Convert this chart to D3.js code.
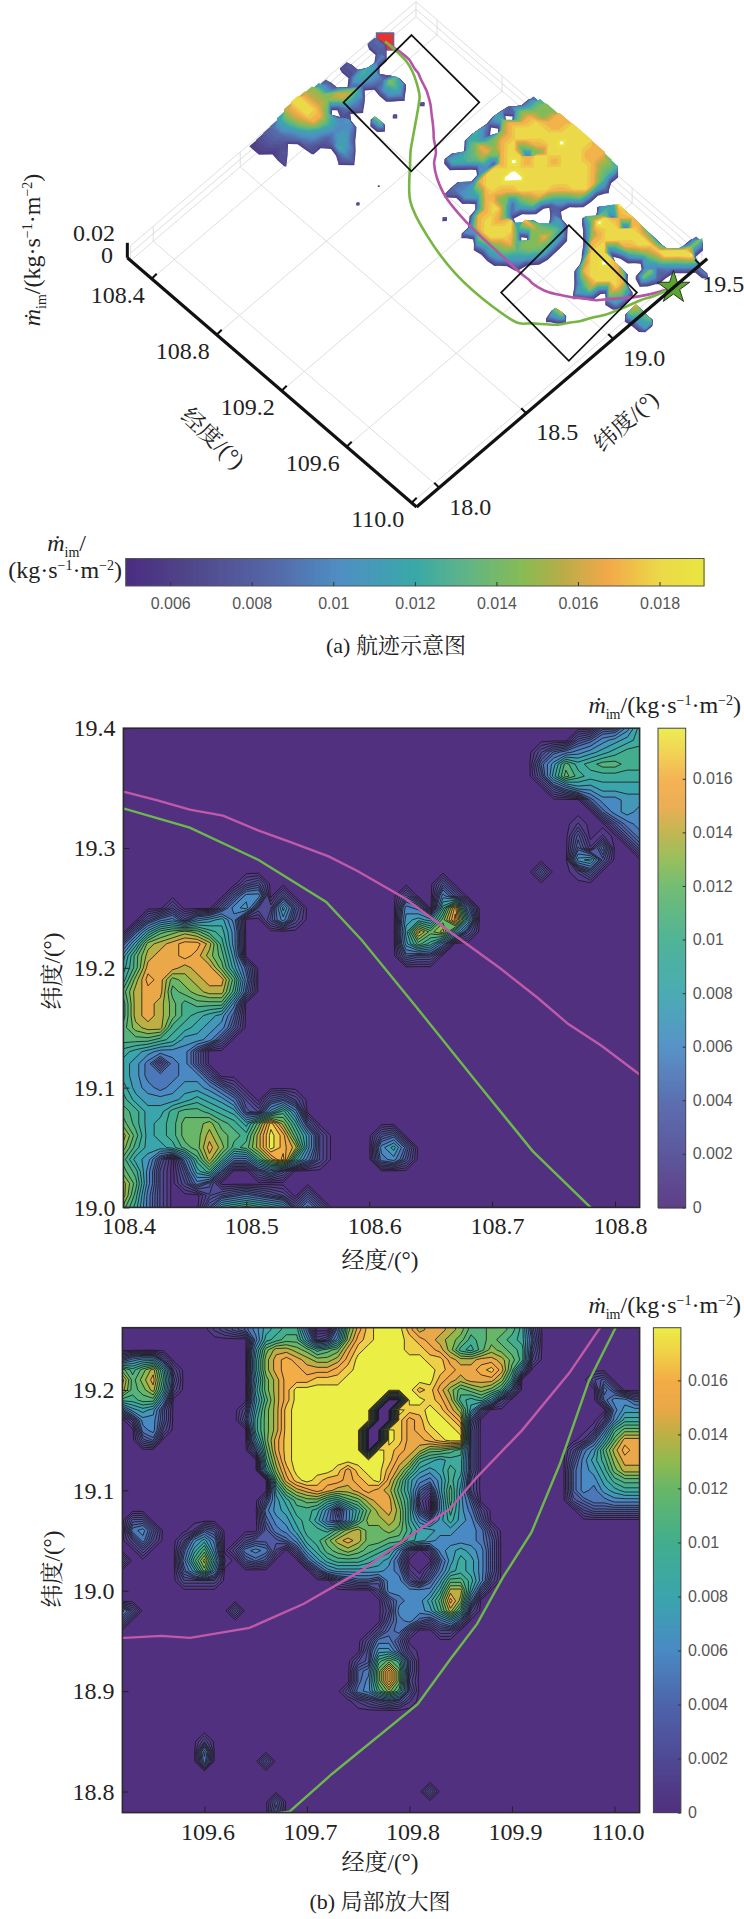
<!DOCTYPE html>
<html><head><meta charset="utf-8">
<script src="https://cdn.jsdelivr.net/npm/d3@7/dist/d3.min.js"></script>
<style>
html,body{margin:0;padding:0;background:#fff}
svg{display:block}
</style></head><body>
<script>
// ---------- data (grid characters: '.'=0, 1-9,a-i = value in 0.001 kg/(s·m²), x = above the colour range)
const surfaceLon0 = 108.30, surfaceLat0 = 19.50, surfaceStep = 0.04;
const surfaceRows = [
"..... ..... ..... .9dff hhiii ihhfd ..... ..... .9f..",
"..... ..... ..... 8cfhi iiixi iiihe 8.... ..... .dixa",
"..... ..... ..... a.dhi iiiii iiiih ..cxi ihfed eiib.",
"..... ..... ..... cehii ihfih iiiii .ad8h 8iiii iia..",
"..... ..... ...6. 9.fhi e9iii iiiie ..eii iiiif d98..",
"9.... ..... ..... b8ehi iihii iihc. .dfxi iihc. af8..",
"8a... ..... ..... dbefh ixiii iic8. ..9fh i8... 8f...",
".a.7d b..9. ..... cehh8 hixxi ih.9b 9..8h iiihe .....",
".cb9f d9... ..... .defa iixii fe..c d9..a iixii ha...",
"8db8a a.... ..... 9cd.b iiih9 c.9de fb... fiiii id.he",
"7c9.. ..9.. ..... ad..9 hiife 8.ihf hc... ahii. fb.fb",
".8ea. ..... ..... ...9a cdhii eic.f fd... .9df. .....",
"8dga8 .fe.. ..... ...9a b.chi hiidf e9... ..b.. .....",
"bgg9. ..... ..... ...8. ..9hi iiihd b.... ..... .....",
"ff.7c 9.... ..... ..... ...bh iifeb 8.... ..... .....",
"ggeca b8... ..... ..... 9..a. c9b9. ..... ..fh. .....",
"iihda cb9.. ..... ..... ..... ..... ..... ..9.. .....",
"iihb8 9da8. ..7.. ..... ..... ..... ..... ..... .....",
"gfca7 ..7.. ..... ..... ..... ..... ..... ..... .....",
"ca987 ..... ..... ..... ..... ..... ..... ..... .....",
"98... ..... ..8.. ..... ..... ..... ..... ..... .....",
"878.. ..... ..... ..... ..... ..... ..... ..... .....",
"7677. ..... ..... ..... ..... ..... ..... ..... .....",
"6.... ..... ..... ..... ..... ..... ..... ..... .....",
"..... ..... ..... ..... ..... ..... ..... ..... ....."
];
const upperLon0 = 108.40, upperLat0 = 19.40, gridStep = 0.01;
const upperRows = [
"..... ..... ..... ..... ..... ..... ..... ....3 369",
"..... ..... ..... ..... ..... ..... ..... ..346 789",
"..... ..... ..... ..... ..... ..... ....2 45678 9aa",
"..... ..... ..... ..... ..... ..... ....4 7b9ab baa",
"..... ..... ..... ..... ..... ..... ....3 8ca99 999",
"..... ..... ..... ..... ..... ..... ..... 35778 888",
"..... ..... ..... ..... ..... ..... ..... ...46 677",
"..... ..... ..... ..... ..... ..... ..... ....4 676",
"..... ..... ..... ..... ..... ..... ..... ..1.. 356",
"..... ..... ..... ..... ..... ..... ..... ..3.1 .35",
"..... ..... ..... ..... ..... ..... ..... ..415 ..3",
"..... ..... ..... ..... ..... ..... ..... ..783 ...",
"..... ..... ..... ..... ..... ..... ....3 ..13. ...",
"..... ..... 23... ..... ..... .3... ..... ..... ...",
"..... ....3 66.3. ..... ...3. .63.. ..... ..... ...",
"....2 ...36 72283 ..... ...65 .9g5. ..... ..... ...",
"..356 36785 ..362 ..... ...78 7ch8. ..... ..... ...",
".48bc dca96 ..... ..... ...8f ce83. ..... ..... ...",
"48def ggea6 ..... ..... ...7b 95... ..... ..... ...",
"7beff gfdb7 ..... ..... ...43 3.... ..... ..... ...",
"8bfff effc8 4.... ..... ..... ..... ..... ..... ...",
"9dgfc deffb 5.... ..... ..... ..... ..... ..... ...",
"beffb cdeea 4.... ..... ..... ..... ..... ..... ...",
"aefec abbb6 ..... ..... ..... ..... ..... ..... ...",
"aefec a9874 ..... ..... ..... ..... ..... ..... ...",
"bdeea 98763 ..... ..... ..... ..... ..... ..... ...",
"bbba9 7763. ..... ..... ..... ..... ..... ..... ...",
"98766 63... ..... ..... ..... ..... ..... ..... ...",
"87525 63... ..... ..... ..... ..... ..... ..... ...",
"87555 663.. ..... ..... ..... ..... ..... ..... ...",
"97656 77642 ..... ..... ..... ..... ..... ..... ...",
"a8777 89875 2.342 ..... ..... ..... ..... ..... ...",
"ba88a bba98 327a6 ..... ..... ..... ..... ..... ...",
"ca89a ccdba 8chd9 3.... ..... ..... ..... ..... ...",
"eb89a ccecb aeigb 72... .34.. ..... ..... ..... ...",
"da889 bcfda beige 72... .684. ..... ..... ..... ...",
"b873. 5aea5 5aeh9 52... .563. ..... ..... ..... ...",
"ca62. 38a4. .3 53 ..... ..... ..... ..... ..... ...",
"eb62. 253.. ..... ..... ..... ..... ..... ..... ...",
"ea52. ..234 5432. 3.... ..... ..... ..... ..... ...",
"c952. ..49a ba983 63... ..... ..... ..... ..... ..."
];
const lowerLon0 = 109.52, lowerLat0 = 19.26;
const lowerRows = [
"..... ....1 23468 9aa5. .5cfh iiige ffedb bccb9 3.... ..... .",
"..... ..... ...59 abb72 37dgh iiihg fedca bcba9 4.... ..... .",
"..... ..... ...7c eedca bcfhi iiihh gfda9 bdcba 3.... ..... .",
"46773 ..... ...8d fgfed degii iiiii hhfee ffeca 2.... ..... .",
"cace9 2.... ...8d fggff fghii iiiii ihgff ghfb5 ..... ..... .",
"fbdfa 3.... ...7c egggh hhiii iiiii igfef ffd9. ..... .23.. .",
"ebce9 2.... ...8c egiii iiiii iiiig hfdbc dca4. ..... ..53. .",
"aabb6 ..... ...7b egiii iiiii i..ii hgea9 a72.. ..... ..466 4",
"47873 ..... ..28c ehiii iiiii ..ihh ihfd8 3.... ..... ...57 7",
".2663 ..... ..39c ehiii iiiii ..hfg iihf4 ..... ..... ..269 9",
"..562 ..... ...9c ehiii iiii. .ihfg hiih3 ..... ..... .15ac c",
"..34. ..... ...7c fhiii iiii. .ihff ghii3 ..... ..... 148cf f",
"..... ..... ...4b fhiii iiii. ihgfe ccba3 ..... ....2 57beg f",
"..... ..... ....a ehiii iiiii ihfea 98993 ..... ....3 68adf f",
"..... ..... ....8 dgiii ihfhi igeb8 78a93 ..... ....4 679ce e",
"..... ..... ..... bfhih ggfgh ifc86 57a82 ..... ....4 668ab b",
"..... ..... ..... 8cefg feefg feb84 27b72 ..... ....4 65789 9",
"..... ..... ....3 79bcc a9bce ffc92 .6b74 ..... ....3 45566 6",
"..... ..... ....5 78aa9 6269c efd93 .6a75 2.... ..... 23333 3",
".33.. ..... ....4 679a8 536ad ded96 47976 3.... ..... ..... .",
".563. ..143 ....3 568aa 9bdec cdca8 87766 52... ..... ..... .",
".252. .2685 ..233 3469a cefec cbb98 76666 53... ..... ..... .",
"..2.. .48b6 .2565 2.379 bcdcb a962. 26787 63... ..... ..... .",
"3.... .5ae8 1.343 ...47 9aaa9 874.. .4798 63... ..... ..... .",
"..... .47c6 ..... ....3 67777 7651. 25898 63... ..... ..... .",
"..... .2222 ..... ..... .2344 36631 47bb9 62... ..... ..... .",
"..... ..... ..... ..... ..... 26666 69ee8 3.... ..... ..... .",
"..... ..... ..... ..... ..... .3566 8bgd5 ..... ..... ..... .",
"63... ..... .3... ..... ..... .2666 7aea2 ..... ..... ..... .",
"3.... ..... ..... ..... ..... .3564 3574. ..... ..... ..... .",
"..... ..... ..... ..... ..... 2452. .22.. ..... ..... ..... .",
"..... ..... ..... ..... ....2 553.. ..... ..... ..... ..... .",
"..... ..... ..... ..... ....3 7741. ..... ..... ..... ..... .",
"..... ..... ..... ..... ...23 aca3. ..... ..... ..... ..... .",
"..... ..... ..... ..... ...45 chc3. ..... ..... ..... ..... .",
"..... ..... ..... ..... ...46 chc2. ..... ..... ..... ..... .",
"..... ..... ..... ..... ..256 ada3. ..... ..... ..... ..... .",
"..... ..... ..... ..... ...12 3431. ..... ..... ..... ..... .",
"..... ..... ..... ..... ..... ..... ..... ..... ..... ..... .",
"..... ..... ..... ..... ..... ..... ..... ..... ..... ..... .",
"..... ..... ..... ..... ..... ..... ..... ..... ..... ..... .",
"..... ...2. ..... ..... ..... ..... ..... ..... ..... ..... .",
"..... ...6. ..... ..... ..... ..... ..... ..... ..... ..... .",
"..... ...5. ....3 ..... ..... ..... ..... ..... ..... ..... .",
"..... ..... ..... ..... ..... ..... ..... ..... ..... ..... .",
"..... ..... ..... ..... ..... ..... ..... ..... ..... ..... .",
"..... ..... ..... ..... ..... ..... 3.... ..... ..... ..... .",
"..... ..... ..... 3.... ..... ..... ..... ..... ..... ..... .",
"..... ..... ..... 4.... ..... ..... ..... ..... ..... ..... ."
];
const magentaFull = [[108.264,19.338],[108.33,19.345],[108.4,19.347],[108.427,19.34],[108.454,19.332],[108.481,19.327],[108.509,19.315],[108.536,19.305],[108.567,19.293],[108.59,19.281],[108.629,19.258],[108.667,19.229],[108.706,19.2],[108.737,19.175],[108.762,19.153],[108.789,19.135],[108.82,19.111],[108.854,19.069],[108.989,18.998],[109.168,18.967],[109.367,18.958],[109.522,18.953],[109.558,18.955],[109.586,18.953],[109.644,18.963],[109.697,18.987],[109.753,19.02],[109.794,19.05],[109.84,19.082],[109.864,19.111],[109.91,19.16],[109.956,19.217],[109.986,19.262],[110.03,19.346]];
const greenFull = [[108.264,19.338],[108.33,19.338],[108.4,19.333],[108.454,19.317],[108.51,19.29],[108.565,19.255],[108.594,19.223],[108.637,19.169],[108.687,19.105],[108.733,19.047],[108.779,19.001],[108.917,18.874],[109.089,18.809],[109.312,18.764],[109.549,18.761],[109.683,18.78],[109.725,18.818],[109.808,18.887],[109.84,18.932],[109.866,18.967],[109.891,19.013],[109.919,19.058],[109.947,19.127],[109.975,19.209],[110.001,19.262],[110.03,19.346]];
const boxA = [[108.322,19.436],[108.771,19.406],[108.81,18.979],[108.355,19.014]];
const boxB = [[109.486,19.253],[109.936,19.224],[109.972,18.799],[109.52,18.832]];
const startPoint = [108.264,19.338], endPoint = [110.03,19.346];
const lonTicks3d = [108.4,108.8,109.2,109.6,110.0], latTicks3d = [18.0,18.5,19.0,19.5];
const cbTicks1 = [0.006,0.008,0.01,0.012,0.014,0.016,0.018];
const cbTicks2 = [0,0.002,0.004,0.006,0.008,0.01,0.012,0.014,0.016];
const upperLonTicks=[108.4,108.5,108.6,108.7,108.8], upperLatTicks=[19.0,19.1,19.2,19.3,19.4];
const lowerLonTicks=[109.6,109.7,109.8,109.9,110.0], lowerLatTicks=[18.8,18.9,19.0,19.1,19.2];

// ---------- helpers
const SERIF='Liberation Serif';
const CJK='Noto Serif CJK SC';
const SANS='Liberation Sans';
const svg = d3.select('body').append('svg').attr('width',744).attr('height',1919);
const defs = svg.append('defs');
const palette2 = d3.scaleLinear()
  .domain([0,.001,.002,.004,.006,.008,.010,.012,.013,.014,.015,.016,.017,.0178])
  .range(['#51307f','#513c88','#504a95','#4e64ab','#4a8ac4','#3ba5ad','#42ae8e','#68b768','#90ba50','#bcb045','#eaa848','#f3ad46','#f0cf48','#ece845']);
const palette1 = d3.scaleLinear()
  .domain([.0049,.0063,.0085,.0102,.012,.0132,.0146,.0156,.0167,.018,.0191])
  .range(['#4a2d82','#514489','#5568a8','#4f90c4','#3aa9a8','#5fb489','#86bc55','#b8ad48','#f2a84a','#ecd94a','#e9e640']);

function parseGrid(rows){
  const parsed = rows.map(r=>Array.from(r.replace(/ /g,'')).map(ch=>{
    if(ch==='.') return 0; if(ch==='x') return 0.020;
    return parseInt(ch,36)*0.001; }));
  const w = d3.max(parsed,r=>r.length);
  parsed.forEach(r=>{while(r.length<w) r.push(0)});
  return {w,h:parsed.length,rows:parsed};
}
function padded(g){
  const rows=[g.rows[0],...g.rows,g.rows[g.h-1]].map(r=>[r[0],...r,r[g.w-1]]);
  return {w:g.w+2,h:g.h+2,flat:rows.flat()};
}
const setFont=(sel,f)=>sel.each(function(){this.style.fontFamily=f;});
function mathLabel(sel,opts){
  const fs=opts.size||22, sub=Math.round(fs*.6);
  sel.attr('fill','#222');
  setFont(sel,SERIF);
  if(opts.m){
    sel.append('tspan').attr('font-style','italic').text('ṁ');
    sel.append('tspan').attr('dy',fs*.25).attr('font-size',sub).text('im');
    sel.append('tspan').attr('dy',-fs*.25).text('/');
  }
  if(opts.unit){
    sel.append('tspan').text('(kg·s');
    sel.append('tspan').attr('dy',-fs*.33).attr('font-size',sub).text('−1');
    sel.append('tspan').attr('dy',fs*.33).text('·m');
    sel.append('tspan').attr('dy',-fs*.33).attr('font-size',sub).text('−2');
    sel.append('tspan').attr('dy',fs*.33).text(')');
  }
}
function mixed(sel,parts){
  sel.attr('fill','#222');
  parts.forEach(([s,f])=>{const t=sel.append('tspan').text(s);t.node().style.fontFamily=f;});
}
function numText(parent,x,y,s,anchor='middle',size=24){
  const t=parent.append('text').attr('x',x).attr('y',y).attr('text-anchor',anchor).attr('font-size',size).attr('fill','#222').text(s);
  t.node().style.fontFamily=SERIF; return t;
}

// ---------- 3-D overview
const lonX=d3.scaleLinear().domain([110.03,108.25]).range([0,-289.25]);
const lonY=d3.scaleLinear().domain([110.03,108.25]).range([0,-249.2]);
const latX=d3.scaleLinear().domain([17.87,19.54]).range([416.6,707.2]);
const latY=d3.scaleLinear().domain([17.87,19.54]).range([507,258.7]);
const zY=d3.scaleLinear().domain([0,0.02]).range([0,-15]);
const P=(lon,lat,z=0)=>[lonX(lon)+latX(lat), lonY(lon)+latY(lat)+zY(z)];
const lonMin=108.25,lonMax=110.03,latMin=17.87,latMax=19.54,backLon=108.27,backLat=19.51;
const g3=svg.append('g');
const line3=d3.line();
function seg(a,b,col,w){g3.append('path').attr('d',line3([a,b])).attr('fill','none').attr('stroke',col).attr('stroke-width',w);}
const grey='#dedede';
lonTicks3d.forEach(l=>{seg(P(l,latMin),P(l,backLat),grey,1);seg(P(l,backLat),P(l,backLat,.02),grey,1);});
latTicks3d.slice(0,3).forEach(l=>{seg(P(lonMax,l),P(backLon,l),grey,1);seg(P(backLon,l),P(backLon,l,.02),grey,1);});
[0,.01,.02].forEach(z=>{
  seg(P(backLon,latMin,z),P(backLon,backLat,z),grey,1);
  seg(P(backLon,backLat,z),P(lonMax,backLat,z),grey,1);
});
seg(P(backLon,backLat),P(backLon,backLat,.02),grey,1);
seg(P(backLon,latMin),P(backLon,latMin,.02),grey,1);
seg(P(lonMax,backLat),P(lonMax,backLat,.02),grey,1);

// start marker (under surface)
const sp=P(...startPoint);
g3.append('path').attr('d',d3.symbol(d3.symbolSquare,290)()).attr('transform',`translate(${sp})`)
  .attr('fill','#e8322c').attr('stroke','#5b6a9a').attr('stroke-width',1.5);

// surface
const sg=parseGrid(surfaceRows), sp2=padded(sg);
const surfThresh=d3.range(0.006,0.0201,0.0005);
const contourS=d3.contours().size([sp2.w,sp2.h]).smooth(true);
surfThresh.forEach(t=>{
  const lift=Math.min(t,0.019);
  const proj=d3.geoTransform({point(x,y){
    const lon=surfaceLon0+(x-1.5)*surfaceStep, lat=surfaceLat0-(y-1.5)*surfaceStep;
    const p=P(lon,lat,lift); this.stream.point(p[0],p[1]);
  }});
  const path=d3.geoPath(proj);
  g3.append('path').attr('d',path(contourS.contour(sp2.flat,t)))
    .attr('fill',t>0.0192?'#fff':palette1(Math.min(t,.0191)));
});
// tracks
const trackLine3b=d3.line().x(d=>P(d[0],d[1])[0]).y(d=>P(d[0],d[1])[1]).curve(d3.curveCatmullRom);
g3.append('path').attr('d',trackLine3b(magentaFull)).attr('fill','none').attr('stroke','#b655a8').attr('stroke-width',2.6);
g3.append('path').attr('d',trackLine3b(greenFull)).attr('fill','none').attr('stroke','#78b644').attr('stroke-width',2.6);
// boxes
[boxA,boxB].forEach(b=>g3.append('path').attr('d',d3.line()(b.map(d=>P(d[0],d[1])))+'Z').attr('fill','none').attr('stroke','#111').attr('stroke-width',1.7));
// star
const ep=P(...endPoint);
g3.append('path').attr('d',d3.symbol(d3.symbolStar,330)()).attr('transform',`translate(${ep})`)
  .attr('fill','#5aa62f').attr('stroke','#222').attr('stroke-width',.9);
// main axes
seg(P(lonMin,latMin),P(lonMax,latMin),'#111',3.2);
seg(P(lonMax,latMin),P(lonMax,latMax),'#111',3.2);
seg(P(lonMin,latMin),P(lonMin,latMin,.02),'#111',3);
lonTicks3d.forEach(l=>{
  const a=P(l,latMin);seg(a,[a[0]+5,a[1]-5],'#111',2);
  numText(g3,a[0]-34,a[1]+24,l.toFixed(1));
});
latTicks3d.forEach(l=>{
  const a=P(lonMax,l);seg(a,[a[0]-5,a[1]-5],'#111',2);
  numText(g3,a[0]+(l==19.5?23:31),a[1]+27,l.toFixed(1));
});
numText(g3,115,241,'0.02','end');
numText(g3,113,263,'0','end');
mixed(g3.append('text').attr('transform','translate(213,438) rotate(43)').attr('text-anchor','middle').attr('dy','.35em').attr('font-size',23),[['经度',CJK],['/(°)',SERIF]]);
mixed(g3.append('text').attr('transform','translate(626,421) rotate(-42)').attr('text-anchor','middle').attr('dy','.35em').attr('font-size',23),[['纬度',CJK],['/(°)',SERIF]]);
mathLabel(g3.append('text').attr('transform','translate(40,250) rotate(-90)').attr('text-anchor','middle').attr('font-size',24),{m:true,unit:true,size:24});
mathLabel(g3.append('text').attr('x',86).attr('y',551).attr('text-anchor','end').attr('font-size',24),{m:true,size:24});
mathLabel(g3.append('text').attr('x',122).attr('y',578).attr('text-anchor','end').attr('font-size',24),{unit:true,size:24});

// horizontal colour bar
const cb1=svg.append('g');
const cbX=d3.scaleLinear().domain([.00491,.01909]).range([125.7,704]);
cb1.selectAll('rect.s').data(d3.range(125.7,704,1)).join('rect').attr('x',d=>d).attr('y',558.5).attr('width',1.4).attr('height',27.5)
  .attr('fill',d=>palette1(cbX.invert(d)));
cb1.append('rect').attr('x',125.7).attr('y',558.5).attr('width',578.3).attr('height',27.5).attr('fill','none').attr('stroke','#555').attr('stroke-width',1);
const axc=d3.axisBottom(cbX).tickValues(cbTicks1).tickFormat(d=>d3.format('.3~f')(d)).tickSize(-4).tickPadding(12);
const axg=cb1.append('g').attr('transform','translate(0,586)').call(axc);
axg.select('.domain').remove();axg.selectAll('line').attr('stroke','#333');
axg.selectAll('text').attr('font-size',16).attr('fill','#555');
setFont(axg.selectAll('text'),SANS);
mixed(svg.append('text').attr('x',396).attr('y',653).attr('text-anchor','middle').attr('font-size',22),[['(a) ',SERIF],['航迹示意图',CJK]]);

// ---------- contour panels
const contourLevels=[...d3.range(0.0003,0.0040,0.0006),...d3.range(0.0045,0.0180,0.001)];
function panel(o){
  const g=svg.append('g');
  const x=d3.scaleLinear().domain(o.xd).range([o.l,o.r]);
  const y=d3.scaleLinear().domain(o.yd).range([o.b,o.t]);
  const id='clip'+o.id;
  defs.append('clipPath').attr('id',id).append('rect').attr('x',o.l).attr('y',o.t).attr('width',o.r-o.l).attr('height',o.b-o.t);
  const body=g.append('g').attr('clip-path',`url(#${id})`);
  body.append('rect').attr('x',o.l).attr('y',o.t).attr('width',o.r-o.l).attr('height',o.b-o.t).attr('fill',palette2(0));
  const pg=padded(parseGrid(o.rows));
  const proj=d3.geoTransform({point(cx,cy){
    this.stream.point(x(o.lon0+(cx-1.5)*gridStep), y(o.lat0-(cy-1.5)*gridStep));
  }});
  const path=d3.geoPath(proj);
  const gen=d3.contours().size([pg.w,pg.h]).smooth(true);
  contourLevels.forEach(t=>{
    body.append('path').attr('d',path(gen.contour(pg.flat,t)))
      .attr('fill',palette2(t+.0005)).attr('stroke','#1c1616').attr('stroke-width',.8).attr('stroke-linejoin','round');
  });
  const tl=d3.line().x(d=>x(d[0])).y(d=>y(d[1]));
  body.append('path').attr('d',tl(magentaFull)).attr('fill','none').attr('stroke','#c05aa8').attr('stroke-width',2.4);
  body.append('path').attr('d',tl(greenFull)).attr('fill','none').attr('stroke','#6cb84c').attr('stroke-width',2.4);
  const ax=d3.axisBottom(x).tickValues(o.xt).tickFormat(d3.format('.1f')).tickSizeInner(-6).tickSizeOuter(0).tickPadding(o.xpad);
  const ay=d3.axisLeft(y).tickValues(o.yt).tickFormat(d3.format('.1f')).tickSizeInner(-6).tickSizeOuter(0).tickPadding(8);
  const gx=g.append('g').attr('transform',`translate(0,${o.b})`).call(ax);
  const gy=g.append('g').attr('transform',`translate(${o.l},0)`).call(ay);
  [gx,gy].forEach(a=>{a.select('.domain').remove();
    a.attr('font-family',null).attr('font-size',null);
    a.selectAll('line').attr('stroke','#222');
    a.selectAll('text').attr('font-size',24).attr('fill','#222');
    setFont(a.selectAll('text'),SERIF);});
  gx.selectAll('text').attr('dx',o.xdx);
  g.append('rect').attr('x',o.l).attr('y',o.t).attr('width',o.r-o.l).attr('height',o.b-o.t).attr('fill','none').attr('stroke','#2a2a2a').attr('stroke-width',1.6);
  mixed(g.append('text').attr('x',380).attr('y',o.xtitleY).attr('text-anchor','middle').attr('font-size',23),[['经度',CJK],['/(°)',SERIF]]);
  mixed(g.append('text').attr('transform',`translate(52,${o.ytitleY}) rotate(-90)`).attr('text-anchor','middle').attr('dy','.35em').attr('font-size',23),[['纬度',CJK],['/(°)',SERIF]]);
  const cy=d3.scaleLinear().domain([0,o.cmax]).range([o.b,o.t]);
  const cb=g.append('g');
  cb.selectAll('rect').data(d3.range(o.t,o.b,1)).join('rect').attr('x',o.cl).attr('y',d=>d).attr('width',o.cr-o.cl).attr('height',1.4)
    .attr('fill',d=>palette2(cy.invert(d)));
  cb.append('rect').attr('x',o.cl).attr('y',o.t).attr('width',o.cr-o.cl).attr('height',o.b-o.t).attr('fill','none').attr('stroke','#444').attr('stroke-width',1);
  const axr=d3.axisRight(cy).tickValues(cbTicks2).tickFormat(d=>d3.format('.3~f')(d)).tickSize(-3).tickPadding(7);
  const gr=cb.append('g').attr('transform',`translate(${o.cr},0)`).call(axr);
  gr.select('.domain').remove();gr.selectAll('line').attr('stroke','#333');
  gr.selectAll('text').attr('font-size',16).attr('fill','#555');
  setFont(gr.selectAll('text'),SANS);
  mathLabel(g.append('text').attr('x',741).attr('y',o.labelY).attr('text-anchor','end').attr('font-size',24),{m:true,unit:true,size:24});
}
panel({id:'u',rows:upperRows,lon0:upperLon0,lat0:upperLat0,xd:[108.4,108.82],yd:[19.0,19.4],
  l:123.4,r:639.6,t:728.2,b:1207.4,xt:upperLonTicks,yt:upperLatTicks,xpad:10,xdx:5,
  xtitleY:1268,ytitleY:971,cl:658,cr:685.7,cmax:0.01789,labelY:713});
panel({id:'l',rows:lowerRows,lon0:lowerLon0,lat0:lowerLat0,xd:[109.52,110.0245],yd:[18.779,19.262],
  l:122.4,r:639.6,t:1327.7,b:1812.6,xt:lowerLonTicks,yt:lowerLatTicks,xpad:10,xdx:3,
  xtitleY:1870,ytitleY:1569,cl:653.4,cr:680.9,cmax:0.01795,labelY:1313});
mixed(svg.append('text').attr('x',380).attr('y',1909).attr('text-anchor','middle').attr('font-size',22),[['(b) ',SERIF],['局部放大图',CJK]]);
</script>
</body></html>
